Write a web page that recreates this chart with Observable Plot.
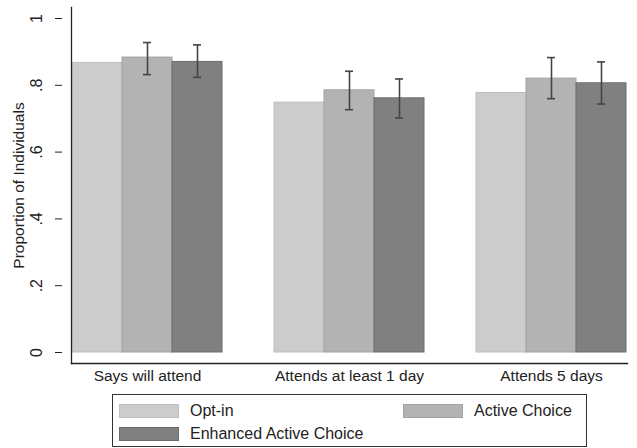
<!DOCTYPE html>
<html>
<head>
<meta charset="utf-8">
<script src="https://cdn.jsdelivr.net/npm/d3@7"></script>
<script src="https://cdn.jsdelivr.net/npm/@observablehq/plot@0.6"></script>
<style>
  body { margin: 0; background: #fff; font-family: "Liberation Sans", Arial, sans-serif; }
  #legend { position: relative; margin-left: 112px; margin-top: 4px; width: 473px; height: 51px; border: 1px solid #333; box-sizing: content-box; }
  .item { position: absolute; display: flex; align-items: center; font-size: 16px; color: #222; }
  .sw { width: 60px; height: 14px; margin-right: 11px; box-sizing: border-box; border: 1px solid; }
</style>
</head>
<body>
<div id="chart"></div>
<div id="legend"></div>
<script>
const categories = ["Says will attend", "Attends at least 1 day", "Attends 5 days"];
const series = ["Opt-in", "Active Choice", "Enhanced Active Choice"];
const optIn = [0.867, 0.748, 0.777];
const activeChoice = [0.883, 0.785, 0.820];
const enhanced = [0.870, 0.761, 0.806];
const activeLo = [0.832, 0.727, 0.760];
const activeHi = [0.928, 0.842, 0.883];
const enhancedLo = [0.824, 0.702, 0.744];
const enhancedHi = [0.921, 0.819, 0.870];
const yTicks = [0, 0.2, 0.4, 0.6, 0.8, 1];
const yTickLabels = ["0", ".2", ".4", ".6", ".8", "1"];
const yTitle = "Proportion of Individuals";
const fills = ["#cccccc", "#b3b3b3", "#808080"];
const strokes = ["#bebebe", "#a2a2a2", "#6c6c6c"];

const bars = [];
categories.forEach((c, i) => {
  bars.push({category: c, series: series[0], value: optIn[i]});
  bars.push({category: c, series: series[1], value: activeChoice[i], lo: activeLo[i], hi: activeHi[i]});
  bars.push({category: c, series: series[2], value: enhanced[i], lo: enhancedLo[i], hi: enhancedHi[i]});
});
const errs = bars.filter(d => d.lo != null);

const chart = Plot.plot({
  width: 637,
  height: 390,
  marginLeft: 61,
  marginRight: 0,
  marginTop: 7,
  marginBottom: 27,
  style: {fontFamily: "Liberation Sans, Arial, sans-serif", color: "#222", background: "#fff"},
  fx: {domain: categories, paddingInner: 0.25, paddingOuter: 0, insetLeft: 9, insetRight: 9, label: null},
  x: {domain: series, padding: 0, axis: null},
  y: {domain: [0, 1], insetTop: 11, insetBottom: 11},
  color: {domain: series, range: fills},
  marks: [
    Plot.barY(bars, {fx: "category", x: "series", y: "value", fill: "series", stroke: d => strokes[series.indexOf(d.series)], strokeWidth: 1}),
    Plot.ruleX(errs, {fx: "category", x: "series", y1: "lo", y2: "hi", stroke: "#444", strokeWidth: 1.6}),
    Plot.tickY(errs, {fx: "category", x: "series", y: "lo", stroke: "#444", strokeWidth: 1.6, insetLeft: 21, insetRight: 21}),
    Plot.tickY(errs, {fx: "category", x: "series", y: "hi", stroke: "#444", strokeWidth: 1.6, insetLeft: 21, insetRight: 21}),
    Plot.frame({anchor: "left", facet: "super", stroke: "#222", strokeWidth: 1.3}),
    Plot.frame({anchor: "bottom", facet: "super", stroke: "#222", strokeWidth: 1.3}),
    Plot.axisY({ticks: yTicks, tickFormat: d => yTickLabels[yTicks.indexOf(d)], tickRotate: -90, tickSize: 7, tickPadding: 14, fontSize: 16, dx: -9, label: null, stroke: "#222"}),
    Plot.text([yTitle], {facet: "super", frameAnchor: "left", textAnchor: "middle", text: d => d, rotate: -90, dx: -52, fontSize: 15.5, fill: "#222"}),
    Plot.axisFx({anchor: "bottom", tickSize: 0, tickPadding: 6, fontSize: 15.5, label: null})
  ]
});
document.getElementById("chart").appendChild(chart);

const legend = document.getElementById("legend");
const pos = [{left: 6, top: 7}, {left: 290, top: 7}, {left: 6, top: 30}];
series.forEach((s, i) => {
  const item = document.createElement("div");
  item.className = "item";
  item.style.left = pos[i].left + "px";
  item.style.top = pos[i].top + "px";
  const sw = document.createElement("div");
  sw.className = "sw";
  sw.style.background = fills[i];
  sw.style.borderColor = strokes[i];
  const t = document.createElement("span");
  t.textContent = s;
  item.appendChild(sw);
  item.appendChild(t);
  legend.appendChild(item);
});
</script>
</body>
</html>
